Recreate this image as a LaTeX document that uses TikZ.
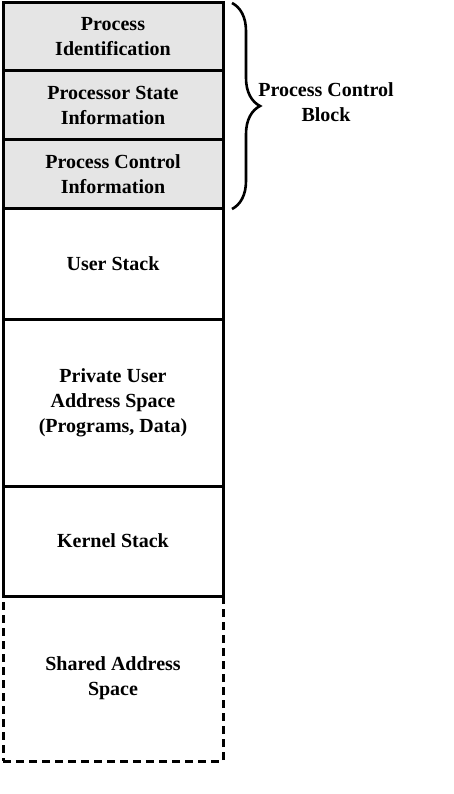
\documentclass[tikz,border=0pt]{standalone}
\usepackage{fontspec}
\setmainfont{Liberation Serif}
\usetikzlibrary{positioning,decorations.pathreplacing}
\tikzstyle{region} = [draw, line width=3pt, minimum width=220pt, outer sep=0pt, inner sep=0pt, align=center, font=\bfseries\fontsize{20}{25}\selectfont]
\tikzstyle{pcb} = [region, fill=black!10]

\begin{document}
\begin{tikzpicture}
    \useasboundingbox (0,0) rectangle (454pt,-794pt);
    \node[pcb, minimum height=68pt, anchor=north west] (ident) at (3pt,-3pt) {Process\\Identification};
    \node[pcb, minimum height=69pt, below=0pt of ident] (state) {Processor State\\Information};
    \node[pcb, minimum height=69pt, below=0pt of state] (control) {Process Control\\Information};
    \node[region, minimum height=110pt, below=0pt of control] (ustack) {User Stack};
    \node[region, minimum height=167pt, below=0pt of ustack] (uspace) {Private User\\Address Space\\(Programs, Data)};
    \node[region, minimum height=110pt, below=0pt of uspace] (kstack) {Kernel Stack};
    \node[region, dashed, dash pattern=on 8pt off 5pt, minimum height=165pt, below=0pt of kstack] (shared) {Shared Address\\Space};
    \draw[line width=2.6pt, decorate, decoration={brace, amplitude=28pt}]
        ([xshift=9pt]ident.north east) -- ([xshift=9pt]control.south east);
    \node[font=\bfseries\fontsize{20}{25}\selectfont, align=center] (pcblabel) at (326pt,-102pt) {Process Control\\Block};
\end{tikzpicture}
\end{document}
